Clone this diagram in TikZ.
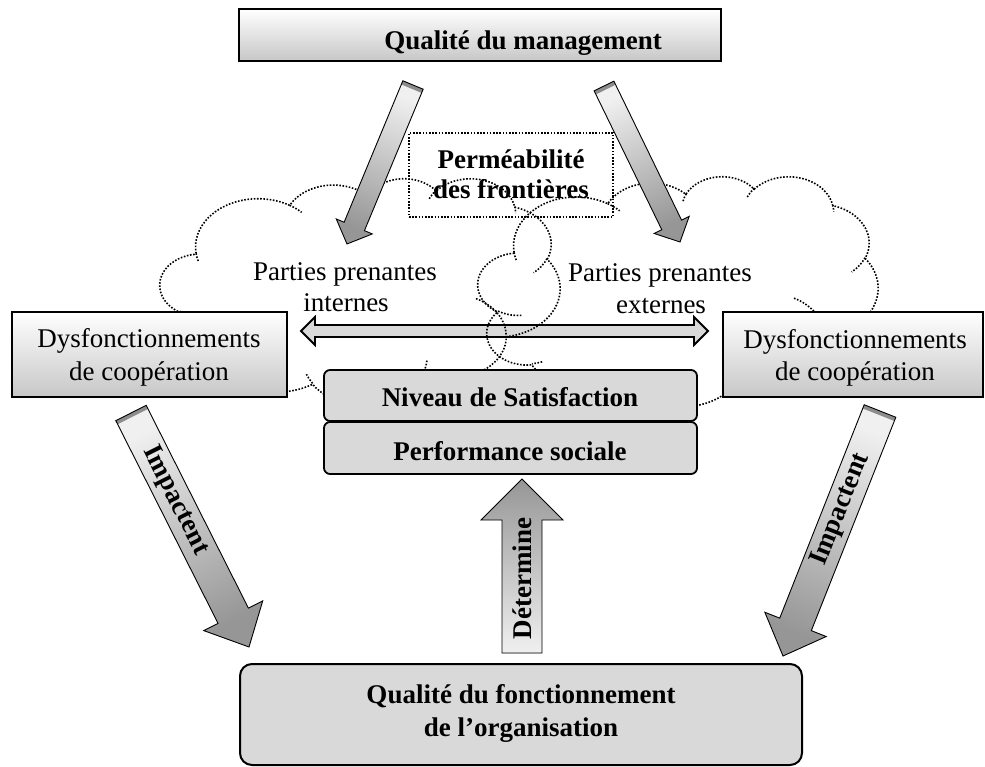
\documentclass[tikz,border=0pt]{standalone}
\usepackage{fontspec}
\setmainfont{Liberation Serif}
\usetikzlibrary{calc}

\definecolor{boxgray}{RGB}{217,217,217}
\definecolor{arrowlight}{RGB}{240,240,240}
\definecolor{arrowdark}{RGB}{150,150,150}
\definecolor{arrowband}{RGB}{140,140,140}

\tikzset{
  txt/.style={font=\fontsize{27}{32}\selectfont, inner sep=0pt, anchor=base},
  btxt/.style={font=\fontsize{27}{32}\selectfont\bfseries, inner sep=0pt, anchor=base},
  gradbox/.style={draw=black, line width=2pt, top color=white, bottom color=black!22, inner sep=0pt},
  flatbox/.style={draw=black, line width=1.8pt, fill=boxgray, rounded corners=6pt, inner sep=0pt},
  dotline/.style={line width=1.6pt, dash pattern=on 1.6pt off 1.6pt},
  fatedge/.style={draw=black, line width=0.9pt, line join=miter},
  dbledge/.style={draw=black, line width=1.8pt, fill=boxgray, line join=miter},
}

% block arrow from tail #1 to tip #2: half shaft #3, half head #4, head length #5,
% shading angle #6, dark band at the tail #7
\newcommand\fatarrow[7]{%
  \coordinate (#1n) at ($(#2)!#5!(#1)$);
  \coordinate (#1b) at ($(#1)!#7!(#2)$);
  \path[top color=arrowlight, bottom color=arrowdark, shading angle=#6]
    ($(#1)!#3!90:(#2)$) -- ($(#1n)!#3!90:(#2)$) -- ($(#1n)!#4!90:(#2)$) -- (#2)
    -- ($(#1n)!#4!-90:(#2)$) -- ($(#1n)!#3!-90:(#2)$) -- ($(#1)!#3!-90:(#2)$) -- cycle;
  \fill[arrowband] ($(#1)!#3!90:(#2)$) -- ($(#1b)!#3!90:(#2)$)
    -- ($(#1b)!#3!-90:(#2)$) -- ($(#1)!#3!-90:(#2)$) -- cycle;
  \path[fatedge]
    ($(#1)!#3!90:(#2)$) -- ($(#1n)!#3!90:(#2)$) -- ($(#1n)!#4!90:(#2)$) -- (#2)
    -- ($(#1n)!#4!-90:(#2)$) -- ($(#1n)!#3!-90:(#2)$) -- ($(#1)!#3!-90:(#2)$) -- cycle;
}

% dotted cloud outline in a 432 x 432 frame: left #1, top #2, x unit #3, y unit #4
\newcommand\wordcloud[4]{%
  \begin{scope}[shift={(#1,#2)}, x=#3pt, y=-#4pt]
    \draw[dotline] (39,143.7)
      \foreach \ra/\rb/\sa/\wa in {67.53/91.90/-190.4875/123.7805,
          53.33/72.67/-144.1024/89.9452, 43.65/59.45/-145.8079/99.7230,
          48.57/65.95/-130.9861/117.2417, 53.33/72.73/-78.7089/109.0269,
          67.75/92.20/-46.2673/130.2690, 57.85/78.67/0.6250/114.0333,
          67.52/92.15/22.4516/115.1726, 77.20/105.43/66.2426/75.7110,
          43.60/59.18/-274.9421/146.7356, 43.45/59.45/-246.8285/152.5189}
      { let \n1={atan2(\ra*sin(\sa),\rb*cos(\sa))},
            \n2={atan2(\ra*sin(\sa+\wa),\rb*cos(\sa+\wa))-(\n1)},
            \n3={\n2+360*round((\wa-(\n2))/360)}
        in arc[start angle=\n1, delta angle=\n3, x radius=\ra, y radius=\rb] } -- cycle;
    \draw[dotline]
      \foreach \px/\py/\ra/\rb/\sa/\wa in {46.93/261.77/43.45/59.45/86.742/26.430,
          69.28/348.99/43.60/59.18/73.611/11.447,
          164.78/390.90/67.52/92.15/137.624/14.081,
          288.27/347.51/67.52/92.15/6.453/15.998,
          341.29/229.54/57.85/78.67/-70.292/70.917,
          417.98/153.54/53.33/72.73/30.318/27.752,
          383.24/54.26/48.57/65.95/-13.744/14.859,
          290.78/39.52/48.57/65.95/-149.181/18.195,
          221.41/47.20/43.65/59.45/-163.494/17.686,
          140.00/51.92/67.53/91.90/-66.707/12.319,
          41.27/157.89/67.53/91.90/157.654/11.858}
      { (\px,\py) let \n1={atan2(\ra*sin(\sa),\rb*cos(\sa))},
            \n2={atan2(\ra*sin(\sa+\wa),\rb*cos(\sa+\wa))-(\n1)},
            \n3={\n2+360*round((\wa-(\n2))/360)}
        in arc[start angle=\n1, delta angle=\n3, x radius=\ra, y radius=\rb] };
  \end{scope}}

\begin{document}
\begin{tikzpicture}[x=1pt,y=-1pt]
\useasboundingbox (0,0) rectangle (985,767);
\fill[white] (0,0) rectangle (985,767);

% two-way exchange between internal and external stakeholders
\coordinate (dl) at (301,331);
\coordinate (dr) at (708,331);
\path[dbledge] (dl) -- ($(dl)+(14,-14)$) -- ($(dl)+(14,-6)$) -- ($(dr)+(-14,-6)$)
  -- ($(dr)+(-14,-14)$) -- (dr) -- ($(dr)+(-14,14)$) -- ($(dr)+(-14,6)$)
  -- ($(dl)+(14,6)$) -- ($(dl)+(14,14)$) -- cycle;

% stakeholder clouds
\wordcloud{160}{178}{0.925926}{0.525463}
\wordcloud{478}{176}{0.925926}{0.532407}

% boundary permeability
\node[draw, dotline, minimum width=204pt, minimum height=84pt, inner sep=0pt] (permbox) at (511,175) {};
\node[btxt] (perm1) at (511,169) {Perméabilité};
\node[btxt] (perm2) at (511,199) {des frontières};

\node[txt] (ppi1) at (345,280) {Parties prenantes};
\node[txt] (ppi2) at (346,312) {internes};
\node[txt] (ppe1) at (660,281.5) {Parties prenantes};
\node[txt] (ppe2) at (661,313) {externes};

% management quality
\node[gradbox, minimum width=482pt, minimum height=52pt] (mgmtbox) at (480,35) {};
\node[btxt] (mgmt) at (523,50) {Qualité du management};

\coordinate (tlA) at (413,85);  \coordinate (tlB) at (347,244);
\fatarrow{tlA}{tlB}{11pt}{19.5pt}{19pt}{-22.5}{4pt}
\coordinate (trA) at (604,86);  \coordinate (trB) at (680,242);
\fatarrow{trA}{trB}{11pt}{19.5pt}{19pt}{26}{4pt}

% cooperation dysfunctions
\node[gradbox, minimum width=275pt, minimum height=85pt] (dysLbox) at (149.5,354.5) {};
\node[txt] (dysL1) at (149,347) {Dysfonctionnements};
\node[txt] (dysL2) at (149,380) {de coopération};
\node[gradbox, minimum width=260pt, minimum height=85pt] (dysRbox) at (853,354.5) {};
\node[txt] (dysR1) at (855,348) {Dysfonctionnements};
\node[txt] (dysR2) at (855,380) {de coopération};

% satisfaction and social performance
\node[flatbox, minimum width=373pt, minimum height=51pt] (nivbox) at (510.5,395.5) {};
\node[btxt] (niv) at (510,406.5) {Niveau de Satisfaction};
\node[flatbox, minimum width=373pt, minimum height=52pt] (perfbox) at (510.5,448) {};
\node[btxt] (perf) at (510,460) {Performance sociale};

% functioning quality
\node[flatbox, rounded corners=12pt, line width=2pt, minimum width=562pt, minimum height=101pt] (qfbox) at (521,714.5) {};
\node[btxt] (qf1) at (521,703) {Qualité du fonctionnement};
\node[btxt] (qf2) at (521,736) {de l’organisation};

% impact arrows
\coordinate (blA) at (131,413);  \coordinate (blB) at (249,647);
\fatarrow{blA}{blB}{17pt}{33pt}{35pt}{26.8}{4pt}
\node[btxt, anchor=center, rotate=-63.3] (impL) at ($(blA)!98pt!(blB)$) {Impactent};
\coordinate (brA) at (880,411);  \coordinate (brB) at (783,656);
\fatarrow{brA}{brB}{17pt}{33pt}{34pt}{-21.6}{4pt}
\node[btxt, anchor=center, rotate=68.4] (impR) at ($(brA)!106pt!(brB)$) {Impactent};

% determines
\coordinate (upA) at (522,653);  \coordinate (upB) at (522,479);
\fatarrow{upA}{upB}{20pt}{41pt}{41pt}{-180}{0pt}
\node[btxt, rotate=90] (det) at (531,578.5) {Détermine};
\end{tikzpicture}
\end{document}
